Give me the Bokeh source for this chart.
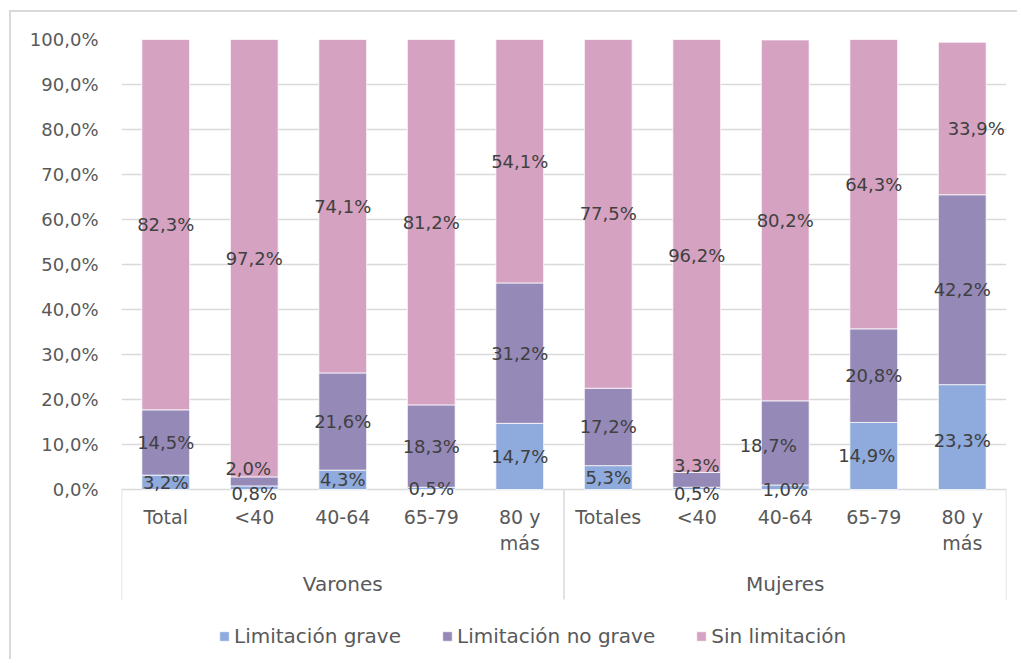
from bokeh.plotting import figure
from bokeh.models import ColumnDataSource, Range1d, FixedTicker, Legend, LegendItem
from bokeh.embed import file_html
from bokeh.resources import INLINE
from bokeh.core.properties import value

# ---------------- data ----------------
groups = ["Varones", "Mujeres"]
categories = ["Total", "<40", "40-64", "65-79", "80 y\nmás",
              "Totales", "<40", "40-64", "65-79", "80 y\nmás"]
grave = [3.2, 0.8, 4.3, 0.5, 14.7, 5.3, 0.5, 1.0, 14.9, 23.3]
no_grave = [14.5, 2.0, 21.6, 18.3, 31.2, 17.2, 3.3, 18.7, 20.8, 42.2]
sin_lim = [82.3, 97.2, 74.1, 81.2, 54.1, 77.5, 96.2, 80.2, 64.3, 33.9]
series_names = ["Limitación grave", "Limitación no grave", "Sin limitación"]
y_ticks = [0, 10, 20, 30, 40, 50, 60, 70, 80, 90, 100]
y_tick_labels = ["0,0%", "10,0%", "20,0%", "30,0%", "40,0%", "50,0%",
                 "60,0%", "70,0%", "80,0%", "90,0%", "100,0%"]

# ---------------- style ----------------
FONT = "DejaVu Sans"
COLORS = ["#8FAADC", "#9589B8", "#D5A3C1"]
AXIS_TXT = "#595959"
LBL_TXT = "#404040"
GRID = "#D9D9D9"
PX = 4.5  # pixels per percentage point
W, H = 1008, 649
LEFT, TOP, RIGHT = 110, 27, 13
frame_h = H - TOP
y_bottom = 100 - frame_h / PX

# pixel nudges for some data labels (series index, bar index) -> (dx, dy)
nudges = {
    (0, 1): (0, 6), (1, 1): (-6, -13),
    (0, 6): (0, 5), (1, 6): (0, -14),
    (0, 7): (0, 2), (1, 7): (-17, 3),
    (0, 8): (-7, 0), (0, 9): (0, 3),
    (2, 9): (14, 10),
}

n = len(categories)
xs = [i + 0.5 for i in range(n)]
src = ColumnDataSource(dict(x=xs, grave=grave, no_grave=no_grave, sin=sin_lim))

p = figure(width=W, height=H, output_backend="svg", toolbar_location=None,
           x_range=Range1d(0, n), y_range=Range1d(y_bottom, 100),
           x_axis_location=None, min_border_left=LEFT, min_border_top=TOP,
           min_border_right=RIGHT, min_border_bottom=0)
p.styles = {"border-top": "2px solid #D9D9D9", "border-left": "2px solid #D9D9D9",
            "margin-left": "9px", "margin-top": "10px"}
p.outline_line_color = None
p.background_fill_color = "white"
p.border_fill_color = "white"

renderers = p.vbar_stack(["grave", "no_grave", "sin"], x="x", width=0.54, source=src,
                         color=COLORS, line_color="white", line_width=0.75)

# y axis
tk = FixedTicker(ticks=y_ticks)
p.yaxis.ticker = tk
p.yaxis.major_label_overrides = {t: l for t, l in zip(y_ticks, y_tick_labels)}
p.yaxis.axis_line_color = None
p.yaxis.major_tick_line_color = None
p.yaxis.minor_tick_line_color = None
p.yaxis.major_tick_out = 0
p.yaxis.minor_tick_out = 0
p.yaxis.major_label_standoff = 23
p.yaxis.major_label_text_font = FONT
p.yaxis.major_label_text_font_size = "18px"
p.yaxis.major_label_text_color = AXIS_TXT
p.ygrid.ticker = tk
p.ygrid.grid_line_color = GRID
p.ygrid.grid_line_width = 1.5
p.xgrid.visible = False

# data labels
lx, ly, lt, ldx, ldy = [], [], [], [], []
series = [grave, no_grave, sin_lim]
for s, vals in enumerate(series):
    for i, v in enumerate(vals):
        base = sum(series[k][i] for k in range(s))
        dx, dy = nudges.get((s, i), (0, 0))
        lx.append(xs[i]); ly.append(base + v / 2)
        lt.append(f"{v:.1f}".replace(".", ",") + "%")
        ldx.append(dx); ldy.append(dy)
lsrc = ColumnDataSource(dict(x=lx, y=ly, t=lt, dx=ldx, dy=ldy))
p.text(x="x", y="y", text="t", x_offset="dx", y_offset="dy", source=lsrc,
       text_font=value(FONT), text_font_size="18px", text_color=LBL_TXT,
       text_align="center", text_baseline="middle")

# category labels (one text row per line, alphabetic baselines)
line1 = [c.split("\n")[0] for c in categories]
line2 = [c.split("\n")[1] if "\n" in c else "" for c in categories]
for row, offs in ((line1, 27), (line2, 53)):
    p.text(x=xs, y=[0] * n, text=row, y_offset=offs,
           text_font=value(FONT), text_font_size="19px", text_color=AXIS_TXT,
           text_align="center", text_baseline="alphabetic")

# group labels
per = n // len(groups)
gx = [g * per + per / 2 for g in range(len(groups))]
p.text(x=gx, y=[0] * len(groups), text=groups, y_offset=94,
       text_font=value(FONT), text_font_size="20px", text_color=AXIS_TXT,
       text_align="center", text_baseline="alphabetic")

# group separators
sep_x = [g * per for g in range(len(groups) + 1)]
p.segment(x0=sep_x, y0=[0] * len(sep_x), x1=sep_x, y1=[-110 / PX] * len(sep_x),
          line_color=GRID, line_width=1.5)

legend = Legend(items=[LegendItem(label=nm, renderers=[r]) for nm, r in zip(series_names, renderers)],
                orientation="horizontal", location=(97, 13),
                glyph_width=12, glyph_height=12, label_standoff=4, spacing=40,
                padding=0, margin=0, border_line_color=None, background_fill_alpha=0,
                label_text_font=FONT, label_text_font_size="20px",
                label_text_color=AXIS_TXT)
p.add_layout(legend)

open("out.html", "w").write(file_html(p, INLINE))
